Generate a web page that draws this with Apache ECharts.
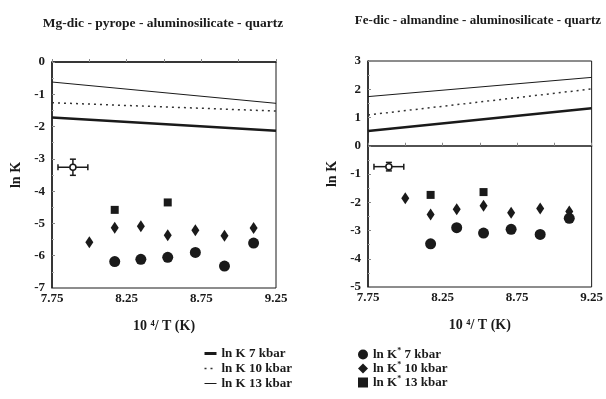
<!DOCTYPE html>
<html>
<head>
<meta charset="utf-8">
<script src="https://cdn.jsdelivr.net/npm/echarts@6/dist/echarts.min.js"></script>
<style>
  html, body { margin: 0; padding: 0; background: #fff; }
  #chart { width: 606px; height: 399px; }
</style>
</head>
<body>
<div id="chart"></div>
<script>
// line ends (x = 10^4/T)
const lineX = [7.75, 9.25];
const mgK7 = [-1.72, -2.13];
const mgK10 = [-1.26, -1.52];
const mgK13 = [-0.62, -1.28];
const feK7 = [0.52, 1.33];
const feK10 = [1.09, 2.01];
const feK13 = [1.74, 2.42];

// measured ln K*
const x7 = [8.17, 8.345, 8.525, 8.71, 8.905, 9.10];
const x10 = [8.0, 8.17, 8.345, 8.525, 8.71, 8.905, 9.10];
const x13 = [8.17, 8.525];
const mgY7 = [-6.18, -6.11, -6.05, -5.90, -6.32, -5.61];
const mgY10 = [-5.58, -5.13, -5.09, -5.37, -5.21, -5.38, -5.14];
const mgY13 = [-4.58, -4.35];
const feY7 = [-3.47, -2.90, -3.09, -2.96, -3.14, -2.57];
const feY10 = [-1.86, -2.43, -2.25, -2.12, -2.37, -2.22, -2.33];
const feY13 = [-1.74, -1.64];

// error bar symbol: x, y, dx, dy
const mgErr = [7.89, -3.26, 0.1, 0.25];
const feErr = [7.89, -0.74, 0.1, 0.15];

const xTickLabels = [7.75, 8.25, 8.75, 9.25];

const serif = 'Liberation Serif';
const ink = '#1a1a1a';

const pairs = (xs, ys) => xs.map((x, i) => [x, ys[i]]);

function xAxis(gi) {
  return {
    type: 'value', gridIndex: gi, min: 7.75, max: 9.25, interval: 0.25,
    name: '10 \u2074/ T (K)', nameLocation: 'middle', nameGap: 31,
    nameTextStyle: { fontFamily: serif, fontSize: 14, fontWeight: 'bold', color: ink },
    axisLine: { lineStyle: { color: ink, width: 1.5 } },
    axisTick: { inside: true, length: 3, lineStyle: { color: '#888' } },
    splitLine: { show: false },
    axisLabel: {
      margin: 4, fontFamily: serif, fontSize: 13, fontWeight: 'bold', color: ink,
      formatter: v => xTickLabels.some(t => Math.abs(t - v) < 1e-6) ? v.toFixed(2) : ''
    }
  };
}

function yAxis(gi, min, max) {
  return {
    type: 'value', gridIndex: gi, min: min, max: max, interval: 1,
    name: 'ln K', nameLocation: 'middle', nameGap: 29,
    nameTextStyle: { fontFamily: serif, fontSize: 14, fontWeight: 'bold', color: ink },
    axisLine: { lineStyle: { color: ink, width: 1.5 } },
    axisTick: { inside: true, length: 3, lineStyle: { color: '#888' } },
    minorTick: { show: true, splitNumber: 2, length: 2, lineStyle: { color: '#aaa' } },
    splitLine: { show: false },
    axisLabel: { margin: 7, fontFamily: serif, fontSize: 13, fontWeight: 'bold', color: ink }
  };
}

function lineSeries(name, gi, ys, style) {
  return {
    name: name, type: 'line', xAxisIndex: gi, yAxisIndex: gi,
    data: pairs(lineX, ys), symbol: 'none', silent: true,
    lineStyle: style, itemStyle: { color: ink }
  };
}

function scatterSeries(name, gi, xs, ys, symbol, size, z) {
  return {
    name: name, type: 'scatter', xAxisIndex: gi, yAxisIndex: gi,
    data: pairs(xs, ys), symbol: symbol, symbolSize: size, z: z,
    itemStyle: { color: ink, opacity: 1 }
  };
}

function errSeries(gi, e) {
  return {
    type: 'custom', xAxisIndex: gi, yAxisIndex: gi, silent: true, z: 5,
    data: [e],
    renderItem: (params, api) => {
      const x = api.value(0), y = api.value(1), dx = api.value(2), dy = api.value(3);
      const c = api.coord([x, y]);
      const l = api.coord([x - dx, y]);
      const r = api.coord([x + dx, y]);
      const t = api.coord([x, y + dy]);
      const b = api.coord([x, y - dy]);
      const st = { stroke: ink, lineWidth: 1.5, fill: null };
      return {
        type: 'group', children: [
          { type: 'line', shape: { x1: l[0], y1: l[1], x2: r[0], y2: r[1] }, style: st },
          { type: 'line', shape: { x1: t[0], y1: t[1], x2: b[0], y2: b[1] }, style: st },
          { type: 'line', shape: { x1: l[0], y1: l[1] - 3, x2: l[0], y2: l[1] + 3 }, style: st },
          { type: 'line', shape: { x1: r[0], y1: r[1] - 3, x2: r[0], y2: r[1] + 3 }, style: st },
          { type: 'line', shape: { x1: t[0] - 3, y1: t[1], x2: t[0] + 3, y2: t[1] }, style: st },
          { type: 'line', shape: { x1: b[0] - 3, y1: b[1], x2: b[0] + 3, y2: b[1] }, style: st },
          { type: 'circle', shape: { cx: c[0], cy: c[1], r: 3 }, style: { stroke: ink, lineWidth: 1.5, fill: '#fff' } }
        ]
      };
    }
  };
}

const thick = { color: ink, width: 2.5 };
const dotted = { color: '#333', width: 1.5, type: [2, 4] };
const thin = { color: ink, width: 1 };

const legendText = { fontFamily: serif, fontSize: 13, fontWeight: 'bold', color: ink,
  rich: { s: { fontSize: 8, fontWeight: 'bold', padding: [0, 0, 7, 0] } } };

const chart = echarts.init(document.getElementById('chart'), null, { renderer: 'canvas' });
chart.setOption({
  backgroundColor: '#fff',
  animation: false,
  title: [
    { text: 'Mg-dic - pyrope - aluminosilicate - quartz', left: 158, top: 12, textAlign: 'center',
      textStyle: { fontFamily: serif, fontSize: 13.5, fontWeight: 'bold', color: ink } },
    { text: 'Fe-dic - almandine - aluminosilicate - quartz', left: 473, top: 9, textAlign: 'center',
      textStyle: { fontFamily: serif, fontSize: 13, fontWeight: 'bold', color: ink } }
  ],
  grid: [
    { left: 52, right: 330, top: 62, bottom: 111, show: true, borderColor: ink, borderWidth: 1 },
    { left: 368, right: 14, top: 61, bottom: 112, show: true, borderColor: ink, borderWidth: 1 }
  ],
  xAxis: [xAxis(0), xAxis(1)],
  yAxis: [yAxis(0, -7, 0), yAxis(1, -5, 3)],
  legend: [
    { orient: 'vertical', left: 198, top: 342, itemWidth: 12, itemHeight: 8, itemGap: 2,
      selectedMode: false, textStyle: legendText, itemStyle: { opacity: 0 },
      data: [
        { name: 'ln K 7 kbar', lineStyle: { width: 3 } },
        { name: 'ln K 10 kbar', lineStyle: { width: 1.5 } },
        { name: 'ln K 13 kbar', lineStyle: { width: 1 } }
      ] },
    { orient: 'vertical', left: 353, top: 342, itemWidth: 10, itemHeight: 10, itemGap: 0,
      selectedMode: false, textStyle: legendText,
      formatter: n => n.replace('K*', 'K{s|*}'),
      data: [
        { name: 'ln K* 7 kbar', icon: 'circle' },
        { name: 'ln K* 10 kbar', icon: 'diamond' },
        { name: 'ln K* 13 kbar', icon: 'rect' }
      ] }
  ],
  series: [
    lineSeries('ln K 7 kbar', 0, mgK7, thick),
    lineSeries('ln K 10 kbar', 0, mgK10, dotted),
    lineSeries('ln K 13 kbar', 0, mgK13, thin),
    lineSeries('ln K 7 kbar', 1, feK7, thick),
    lineSeries('ln K 10 kbar', 1, feK10, dotted),
    lineSeries('ln K 13 kbar', 1, feK13, thin),
    scatterSeries('ln K* 10 kbar', 0, x10, mgY10, 'diamond', [8, 12], 3),
    scatterSeries('ln K* 7 kbar', 0, x7, mgY7, 'circle', 11, 4),
    scatterSeries('ln K* 13 kbar', 0, x13, mgY13, 'rect', 8, 3),
    scatterSeries('ln K* 10 kbar', 1, x10, feY10, 'diamond', [8, 12], 3),
    scatterSeries('ln K* 7 kbar', 1, x7, feY7, 'circle', 11, 4),
    scatterSeries('ln K* 13 kbar', 1, x13, feY13, 'rect', 8, 3),
    errSeries(0, mgErr),
    errSeries(1, feErr)
  ]
});
</script>
</body>
</html>
